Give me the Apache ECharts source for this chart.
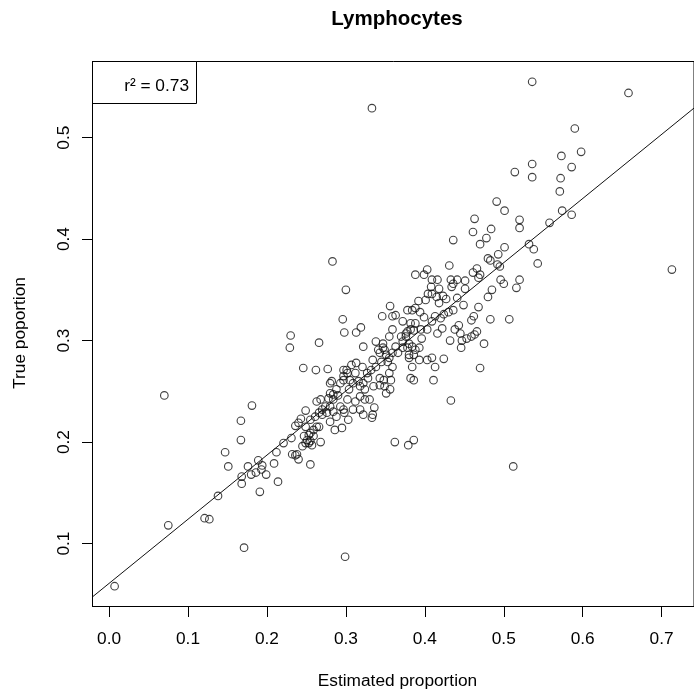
<!DOCTYPE html>
<html><head><meta charset="utf-8">
<script src="https://cdn.jsdelivr.net/npm/echarts@6/dist/echarts.min.js"></script>
<style>html,body{margin:0;padding:0;background:#fff}#c{width:694px;height:693px}</style>
</head><body><div id="c"></div>
<script>
// Estimated proportion (x) and true proportion (y)
const estimated = [
0.007,0.075,0.070,0.121,0.127,0.138,0.147,0.151,0.167,0.167,
0.168,0.168,0.171,0.181,0.176,0.180,0.186,0.189,0.194,0.193,
0.191,0.199,0.209,0.212,0.214,0.221,0.229,0.230,0.266,0.246,
0.262,0.277,0.231,0.232,0.236,0.238,0.240,0.236,0.243,0.249,
0.255,0.268,0.299,
0.247,0.251,0.255,0.259,0.263,0.253,0.257,0.249,0.255,0.261,
0.266,0.270,0.274,0.263,0.268,0.278,0.280,0.284,0.288,0.293,
0.297,0.280,0.284,0.288,0.297,0.286,0.295,0.280,0.297,
0.282,0.290,0.284,0.276,0.297,0.301,0.307,0.313,0.305,0.309,
0.316,0.322,0.328,0.324,0.318,0.324,0.330,0.336,0.322,0.309,
0.303,0.334,0.332,0.338,0.345,0.334,0.343,0.349,0.351,0.357,
0.355,0.359,0.355,0.341,0.347,0.343,0.351,0.353,0.347,0.370,
0.376,0.382,0.380,0.372,0.378,0.380,0.384,0.382,0.386,0.366,
0.363,0.355,0.372,0.382,0.384,0.378,0.240,0.253,0.259,0.255,
0.249,0.245,0.266,0.280,0.270,
0.491,0.501,0.463,0.461,0.484,0.478,0.470,0.436,0.520,0.520,
0.501,0.283,0.480,0.483,0.493,0.492,0.495,0.431,0.461,0.466,
0.468,0.470,0.496,0.500,0.520,0.516,0.403,0.388,0.399,0.300,
0.409,0.416,0.418,0.408,0.433,0.436,0.441,0.434,0.451,0.451,
0.404,0.409,0.415,0.423,0.427,0.401,0.418,0.392,0.356,0.346,
0.296,0.298,0.313,0.319,0.322,0.359,0.363,0.388,0.394,0.399,
0.388,0.359,0.378,0.386,0.395,0.403,0.409,0.413,0.420,0.424,
0.430,0.436,0.449,0.468,0.480,0.485,0.507,0.483,0.459,0.462,
0.443,0.438,0.445,0.416,0.422,0.466,0.463,0.459,0.453,0.475,
0.446,0.432,0.447,0.424,0.409,0.403,0.470,0.413,0.338,0.349,
0.359,0.372,0.384,0.388,0.386,0.380,0.393,0.396,0.376,
0.536,0.658,0.590,0.598,0.573,0.586,0.536,0.514,0.536,0.572,
0.571,0.574,0.586,0.558,0.532,0.538,0.543,0.713,0.333,0.441,
0.393,0.411,0.433,0.362,0.379,0.386,0.512,0.321,0.302,0.312,
0.327,0.318,0.304,0.335,0.343,0.348,0.293,0.302,0.312,0.318,
0.298,0.333,0.356
];
const truth = [
0.058,0.118,0.246,0.125,0.124,0.147,0.190,0.176,0.221,0.202,
0.166,0.159,0.096,0.236,0.176,0.168,0.170,0.182,0.177,0.173,
0.151,0.168,0.179,0.190,0.161,0.199,0.293,0.305,0.298,0.273,
0.271,0.272,0.204,0.188,0.187,0.188,0.183,0.216,0.223,0.231,
0.178,0.200,0.087,
0.206,0.202,0.209,0.212,0.215,0.199,0.197,0.215,0.222,0.225,
0.229,0.232,0.235,0.240,0.242,0.243,0.248,0.247,0.252,0.258,
0.261,0.235,0.230,0.225,0.232,0.212,0.214,0.258,0.271,
0.260,0.246,0.242,0.229,0.265,0.271,0.276,0.278,0.261,0.258,
0.260,0.258,0.263,0.252,0.245,0.242,0.242,0.234,0.227,0.232,
0.222,0.227,0.271,0.274,0.279,0.281,0.263,0.255,0.248,0.261,
0.268,0.274,0.283,0.291,0.293,0.288,0.286,0.279,0.297,0.304,
0.307,0.311,0.297,0.293,0.293,0.286,0.274,0.263,0.261,0.288,
0.294,0.304,0.319,0.317,0.330,0.330,0.219,0.207,0.206,0.201,
0.199,0.196,0.215,0.220,0.227,
0.437,0.428,0.420,0.407,0.410,0.401,0.395,0.399,0.419,0.411,
0.392,0.378,0.381,0.379,0.385,0.375,0.373,0.374,0.367,0.371,
0.362,0.365,0.360,0.356,0.360,0.352,0.370,0.365,0.365,0.350,
0.360,0.360,0.351,0.353,0.360,0.356,0.360,0.353,0.359,0.351,
0.346,0.346,0.343,0.344,0.341,0.340,0.337,0.339,0.334,0.324,
0.321,0.308,0.308,0.313,0.294,0.324,0.325,0.332,0.328,0.323,
0.317,0.311,0.309,0.310,0.311,0.311,0.319,0.324,0.322,0.326,
0.328,0.330,0.335,0.333,0.343,0.350,0.321,0.321,0.320,0.324,
0.315,0.311,0.307,0.307,0.312,0.309,0.306,0.304,0.302,0.297,
0.293,0.300,0.300,0.282,0.283,0.281,0.273,0.274,0.299,0.291,
0.288,0.299,0.294,0.291,0.286,0.283,0.281,0.302,0.304,
0.555,0.544,0.509,0.486,0.482,0.471,0.474,0.466,0.461,0.460,
0.447,0.428,0.424,0.416,0.395,0.390,0.376,0.370,0.529,0.342,
0.293,0.261,0.241,0.200,0.197,0.202,0.176,0.274,0.268,0.268,
0.268,0.255,0.252,0.255,0.256,0.261,0.235,0.242,0.240,0.232,
0.229,0.224,0.252
];
const xTicks = [0.0, 0.1, 0.2, 0.3, 0.4, 0.5, 0.6, 0.7];
const yTicks = [0.1, 0.2, 0.3, 0.4, 0.5];
const fitX = [-0.021, 0.741];
const fitY = [0.0475, 0.5291];
const titleText = 'Lymphocytes';
const xTitle = 'Estimated proportion';
const yTitle = 'True poportion';
const r2Text = 'r\u00B2 = 0.73';

const FONT = 'Liberation Sans, Arial, Helvetica, sans-serif';
const points = estimated.map((v, i) => [v, truth[i]]);
const fitLine = fitX.map((v, i) => [v, fitY[i]]);
const X_MIN = -0.021, X_MAX = 0.741, Y_MIN = 0.038, Y_MAX = 0.575;

const chart = echarts.init(document.getElementById('c'));
chart.setOption({
  animation: false,
  backgroundColor: '#ffffff',
  grid: {left: 92.5, top: 61.5, width: 609, height: 545, show: true,
         borderColor: '#000', borderWidth: 1},
  xAxis: [{
    type: 'value', min: X_MIN, max: X_MAX, position: 'bottom',
    axisLine: {show: true, onZero: false, lineStyle: {color: '#000', width: 1}},
    splitLine: {show: false},
    axisTick: {show: true, length: 10.5, customValues: xTicks,
               lineStyle: {color: '#000', width: 1}},
    axisLabel: {customValues: xTicks, margin: 24, color: '#000',
                fontFamily: FONT, fontSize: 17.3,
                formatter: v => v.toFixed(1)}
  }, {
    type: 'value', min: X_MIN, max: X_MAX, position: 'bottom', offset: 0,
    axisLine: {show: true, onZero: false, lineStyle: {color: '#000', width: 1}},
    splitLine: {show: false},
    axisTick: {show: true, length: 10.5, customValues: xTicks,
               lineStyle: {color: '#000', width: 1}},
    axisLabel: {customValues: xTicks, color: 'rgba(0,0,0,0)',
                formatter: v => v.toFixed(1)}
  }],
  yAxis: [{
    type: 'value', min: Y_MIN, max: Y_MAX, position: 'left',
    axisLine: {show: true, onZero: false, lineStyle: {color: '#000', width: 1}},
    splitLine: {show: false},
    axisTick: {show: true, length: 10.5, customValues: yTicks,
               lineStyle: {color: '#000', width: 1}},
    axisLabel: {customValues: yTicks, rotate: 90, margin: 28.5, color: '#000',
                align: 'center', verticalAlign: 'middle',
                fontFamily: FONT, fontSize: 17.3,
                formatter: v => v.toFixed(1)}
  }, {
    type: 'value', min: Y_MIN, max: Y_MAX, position: 'left', offset: 0,
    axisLine: {show: true, onZero: false, lineStyle: {color: '#000', width: 1}},
    splitLine: {show: false},
    axisTick: {show: true, length: 10.5, customValues: yTicks,
               lineStyle: {color: '#000', width: 1}},
    axisLabel: {customValues: yTicks, rotate: 90, color: 'rgba(0,0,0,0)',
                formatter: v => v.toFixed(1)}
  }],
  series: [
    {type: 'scatter', data: points, symbol: 'circle', symbolSize: 7.6,
     silent: true, clip: true, xAxisIndex: 0, yAxisIndex: 0,
     itemStyle: {color: 'rgba(0,0,0,0)', borderColor: '#111', borderWidth: 1.1}},
    {type: 'line', data: fitLine, showSymbol: false, silent: true, clip: true,
     xAxisIndex: 0, yAxisIndex: 0,
     lineStyle: {color: '#111', width: 1}}
  ],
  graphic: [
    {type: 'text', x: 397, y: 19, silent: true,
     style: {text: titleText, fill: '#000', font: 'bold 20.5px ' + FONT,
             textAlign: 'center', textVerticalAlign: 'middle'}},
    {type: 'text', x: 397.5, y: 681, silent: true,
     style: {text: xTitle, fill: '#000', font: '17.3px ' + FONT,
             textAlign: 'center', textVerticalAlign: 'middle'}},
    {type: 'text', x: 20, y: 333, rotation: Math.PI / 2, silent: true,
     style: {text: yTitle, fill: '#000', font: '17.3px ' + FONT,
             textAlign: 'center', textVerticalAlign: 'middle'}},
    {type: 'rect', shape: {x: 92.5, y: 61.5, width: 104, height: 42}, silent: true,
     style: {fill: '#fff', stroke: '#000', lineWidth: 1}},
    {type: 'text', x: 189, y: 86, silent: true,
     style: {text: r2Text, fill: '#000', font: '17.3px ' + FONT,
             textAlign: 'right', textVerticalAlign: 'middle'}}
  ]
});
</script></body></html>
